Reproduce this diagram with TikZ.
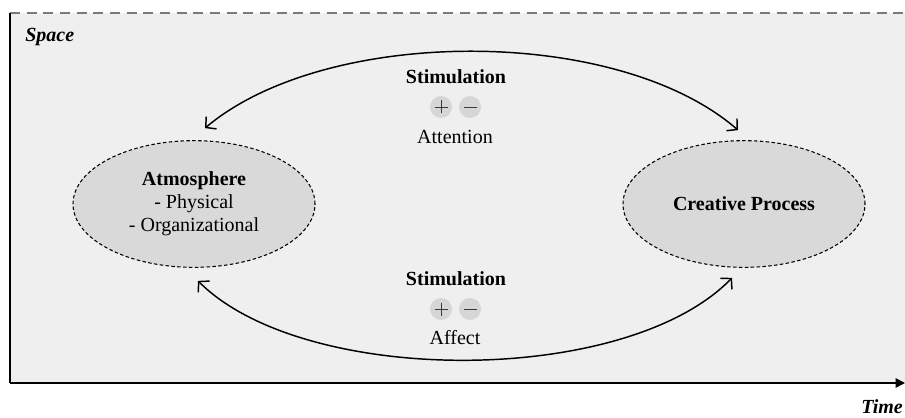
\documentclass[tikz,border=0pt]{standalone}
\usepackage{fontspec}
\setmainfont{Liberation Serif}
\usetikzlibrary{arrows.meta,shapes.geometric,calc}
\definecolor{panel}{HTML}{EFEFEF}
\definecolor{blob}{HTML}{D9D9D9}
\definecolor{chip}{HTML}{D6D6D6}
\definecolor{edgegray}{HTML}{7A7A7A}
\definecolor{signgray}{HTML}{3A3A3A}
\begin{document}
\begin{tikzpicture}[x=0.75pt,y=-0.75pt,
  every node/.style={font=\fontsize{15}{17.25}\selectfont, inner sep=0pt},
  bubble/.style={ellipse, draw=black, fill=blob, line width=0.8pt,
    dash pattern=on 2.6pt off 1.8pt, minimum width=181.5pt,
    minimum height=95pt, align=center},
  chipnode/.style={circle, fill=chip, minimum size=16.5pt},
  signline/.style={draw=signgray, line width=0.7pt},
  heading/.style={font=\fontsize{15}{17.25}\selectfont\bfseries},
  flow/.style={line width=1.1pt, {Straight Barb[length=5.5pt,width=12pt]}-{Straight Barb[length=5.5pt,width=12pt]}},
  axisline/.style={line width=1.2pt}]
\useasboundingbox (0,0) rectangle (905,417);

% panel and axes
\fill[panel] (10,13) rectangle (905,383);
\coordinate (ytop) at (10,13);
\coordinate (origin) at (10,383);
\coordinate (xend) at (905,383);
\coordinate (topend) at (905,13);
\draw[edgegray, line width=1pt, dash pattern=on 7.5pt off 5pt] (ytop) -- (topend);
\draw[axisline] (ytop) -- (origin);
\draw[axisline, -{Triangle[length=7pt,width=7pt]}] (origin) -- (xend);

\node[anchor=west, font=\fontsize{15}{17.25}\selectfont\bfseries\itshape] (space) at (25,37) {Space};
\node[anchor=east, font=\fontsize{15}{17.25}\selectfont\bfseries\itshape] (time) at (903,407) {Time};

% the two states
\node[bubble] (atm) at (194,204) {\textbf{Atmosphere}\\- Physical\\- Organizational};
\node[bubble] (cp) at (744,204) {\textbf{Creative Process}};

% upper link
\node[heading] (stimA) at (456,77) {Stimulation};
\node[chipnode] (plusA) at (441,107) {};
\node[chipnode] (minusA) at (470,107) {};
\node (attn) at (455,137) {Attention};
\draw[signline] ($(plusA)+(-6.5,0)$) -- ($(plusA)+(6.5,0)$);
\draw[signline] ($(plusA)+(0,-6.5)$) -- ($(plusA)+(0,6.5)$);
\draw[signline] ($(minusA)+(-6.5,0)$) -- ($(minusA)+(6.5,0)$);

% lower link
\node[heading] (stimB) at (456,279) {Stimulation};
\node[chipnode] (plusB) at (441,309) {};
\node[chipnode] (minusB) at (470,309) {};
\node (affect) at (455,338) {Affect};
\draw[signline] ($(plusB)+(-6.5,0)$) -- ($(plusB)+(6.5,0)$);
\draw[signline] ($(plusB)+(0,-6.5)$) -- ($(plusB)+(0,6.5)$);
\draw[signline] ($(minusB)+(-6.5,0)$) -- ($(minusB)+(6.5,0)$);

% arcs between the states
\draw[flow] ([shift={(11,-12)}]atm.north) .. controls +(121,-102) and +(-121,-105) .. ([shift={(-6,-10)}]cp.north);
\draw[flow] ([shift={(4,13)}]atm.south) .. controls +(106,106) and +(-106,109) .. ([shift={(-12,10)}]cp.south);
\end{tikzpicture}
\end{document}
